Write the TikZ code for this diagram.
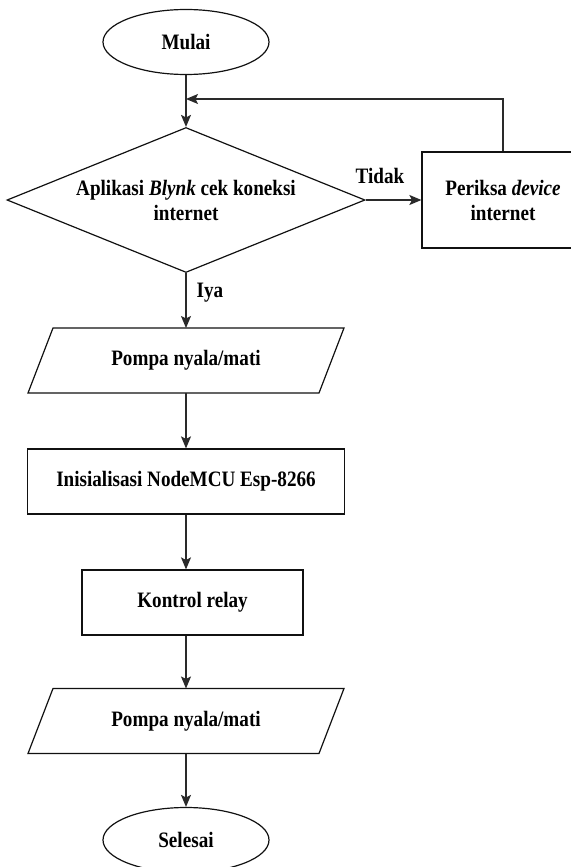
\documentclass[tikz,border=0pt]{standalone}
\usepackage{fontspec}
\setmainfont{Liberation Serif}[FakeStretch=0.87]
\usepackage{tikz}
\usetikzlibrary{shapes.geometric, arrows.meta, positioning, calc}
\definecolor{fcline}{HTML}{111111}
\definecolor{fcarrow}{HTML}{2A2A2A}

\begin{document}
\begin{tikzpicture}[
    x=1pt, y=-1pt,
    every node/.style={font=\fontsize{22}{25}\selectfont\bfseries},
    terminal/.style={ellipse, draw=fcline, line width=1.2pt, minimum width=166pt, minimum height=65pt},
    decision/.style={diamond, draw=fcline, line width=1.2pt, minimum width=358pt, minimum height=145pt, aspect=2.47, inner sep=0pt, align=center},
    process/.style={rectangle, draw=fcline, line width=1.2pt, minimum height=65pt, align=center},
    io/.style={rectangle, outer sep=0pt, minimum width=291pt, minimum height=65pt},
    arrow/.style={-{Stealth[length=12pt, width=10pt, inset=2.5pt]}, color=fcarrow, line width=1.1pt}
]
\useasboundingbox (0,0) rectangle (570,867);

% Start and check
\node[terminal] (mulai) at (186,42) {Mulai};
\node[decision] (cek) at (186,200) {Aplikasi \textit{Blynk} cek koneksi\\internet};
\node[process, minimum width=162pt, minimum height=96pt] (periksa) at (503,200) {Periksa \textit{device}\\internet};

% Main flow
\node[io] (pompa1) at (186,360.5) {Pompa nyala/mati};
\node[process, minimum width=317pt] (init) at (186,481.5) {Inisialisasi NodeMCU Esp-8266};
\node[process, minimum width=221pt] (relay) at (192.5,602.5) {Kontrol relay};
\node[io] (pompa2) at (186,721) {Pompa nyala/mati};
\node[terminal] (selesai) at (186,840) {Selesai};

% Input/output shapes
\foreach \n in {pompa1,pompa2} {
    \draw[draw=fcline, line width=1.2pt] ([xshift=12.5pt]\n.north west) -- ([xshift=12.5pt]\n.north east)
        -- ([xshift=-12.5pt]\n.south east) -- ([xshift=-12.5pt]\n.south west) -- cycle;
}

% Labels
\node (tidak) at (380,176) {Tidak};
\node (iya) at (210,293) {Iya};

% Connections
\coordinate (balik) at (186,99);
\draw[arrow] (mulai.south) -- (cek.north);
\draw[arrow] (cek.east) -- (periksa.west);
\draw[arrow] (periksa.north) |- (balik);
\draw[arrow] (cek.south) -- (pompa1.north);
\draw[arrow] (pompa1.south) -- (init.north);
\draw[arrow] (init.south) -- (init.south |- relay.north);
\draw[arrow] (init.south |- relay.south) -- (pompa2.north);
\draw[arrow] (pompa2.south) -- (selesai.north);

\end{tikzpicture}
\end{document}
